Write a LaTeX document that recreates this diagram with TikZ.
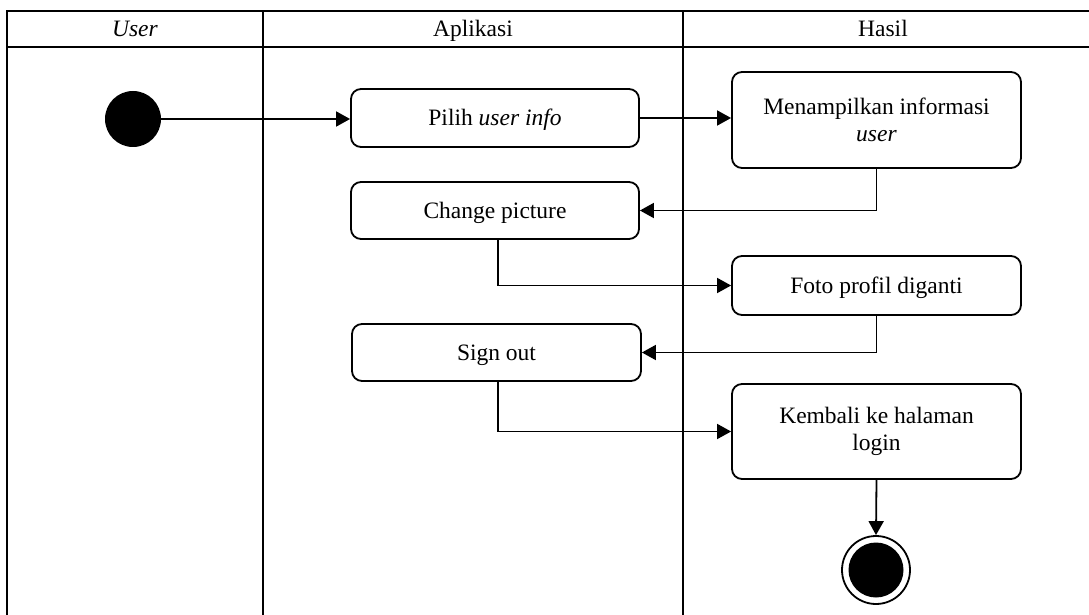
\documentclass[tikz,border=0pt]{standalone}
\usepackage{fontspec}
\setmainfont{Liberation Serif}
\usetikzlibrary{arrows.meta}
\begin{document}
\begin{tikzpicture}[x=1bp,y=-1bp,
  every node/.style={font=\fontsize{23.5bp}{27bp}\selectfont},
  lane/.style={line width=1.8bp},
  actbox/.style={draw, line width=1.8bp, rounded corners=10bp, align=center, inner sep=0pt},
  oneline/.style={text height=15.5bp, text depth=0pt},
  startnode/.style={circle, fill=black, minimum size=56bp, inner sep=0pt},
  endnode/.style={circle, draw, line width=1.8bp, minimum size=68bp, inner sep=0pt,
    path picture={\fill (path picture bounding box.center) circle (27.5bp);}},
  flow/.style={line width=1.8bp, -{Triangle[length=14bp,width=15bp]}}
]
\useasboundingbox (0,0) rectangle (1089,615);
% swimlanes
\draw[lane] (1089,11) -- (7,11) -- (7,615);
\draw[lane] (7,47) -- (1089,47);
\draw[lane] (263,11) -- (263,615);
\draw[lane] (683,11) -- (683,615);
\node[anchor=base] (hUser) at (135,37) {\textit{User}};
\node[anchor=base] (hApp) at (473,37) {Aplikasi};
\node[anchor=base] (hHasil) at (883,37) {Hasil};
% nodes
\node[startnode] (start) at (133,119) {};
\node[actbox, oneline, minimum width=288bp, minimum height=58bp] (pilih) at (495,118) {Pilih \textit{user info}};
\node[actbox, minimum width=289bp, minimum height=96bp] (info) at (876.5,120) {Menampilkan informasi\\\textit{user}};
\node[actbox, oneline, minimum width=288bp, minimum height=57bp] (change) at (495,210.5) {Change picture};
\node[actbox, oneline, minimum width=289bp, minimum height=59bp] (foto) at (876.5,285.5) {Foto profil diganti};
\node[actbox, oneline, minimum width=289bp, minimum height=57bp] (signout) at (496.5,352.5) {Sign out};
\node[actbox, minimum width=289bp, minimum height=95bp] (kembali) at (876.5,431.5) {Kembali ke halaman\\login};
\node[endnode] (end) at (876,570) {};
% connectors
\draw[flow] (start.east) -- (start.east -| pilih.west);
\draw[flow] (pilih.east) -- (pilih.east -| info.west);
\draw[flow] (info.south) |- (change.east);
\draw[flow] ([xshift=3bp]change.south) |- (foto.west);
\draw[flow] (foto.south) |- (signout.east);
\draw[flow] ([xshift=1.5bp]signout.south) |- (kembali.west);
\draw[flow] (kembali.south) -- (end.north);
\end{tikzpicture}
\end{document}
